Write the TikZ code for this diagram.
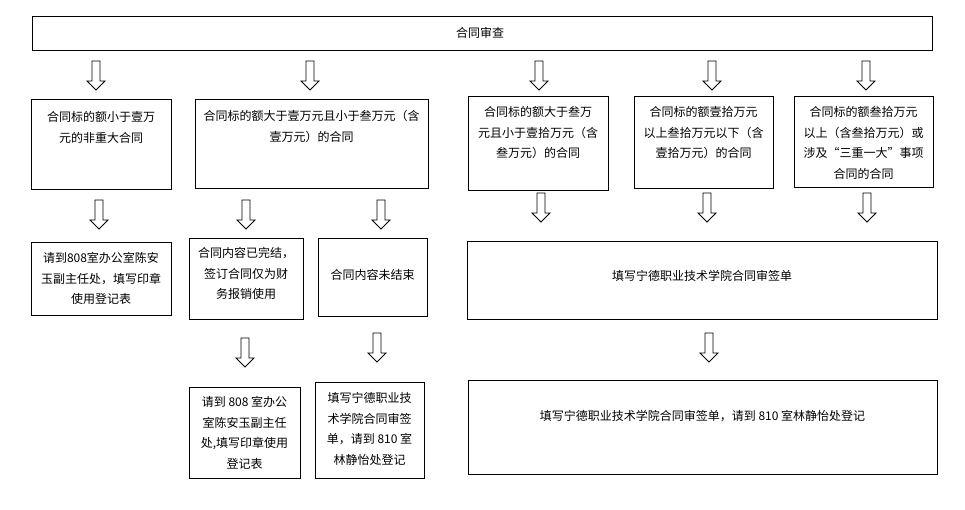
\documentclass[tikz,border=0pt]{standalone}
\usepackage{fontspec}
\setmainfont{Noto Sans CJK SC}
\tikzset{
  box/.style={draw, line width=0.9pt, anchor=north west, inner sep=0pt, outer sep=0pt},
  txt/.style={align=center, inner sep=0pt, anchor=north, font=\fontsize{12}{20.5}\selectfont},
  harrow/.pic={\draw[line width=0.8pt, line join=miter, fill=white]
      (-4,0) -- (4,0) -- (4,20) -- (9,20) -- (0,29) -- (-9,20) -- (-4,20) -- cycle;}
}
\begin{document}
\begin{tikzpicture}[x=1pt,y=-1pt]
\useasboundingbox (0,0) rectangle (965,510);
% boxes
\node[box, minimum width=900, minimum height=34] (top) at (32,16) {};
\node[box, minimum width=140, minimum height=90] (A) at (31,99) {};
\node[box, minimum width=233, minimum height=89] (B) at (195,99) {};
\node[box, minimum width=140, minimum height=94] (C) at (468,96) {};
\node[box, minimum width=139, minimum height=92] (D) at (634,96) {};
\node[box, minimum width=139, minimum height=91] (E) at (794,96) {};
\node[box, minimum width=140, minimum height=73] (F) at (31,242) {};
\node[box, minimum width=114, minimum height=81] (G) at (189,238) {};
\node[box, minimum width=109, minimum height=78] (H) at (318,238) {};
\node[box, minimum width=470, minimum height=78] (I) at (467,241) {};
\node[box, minimum width=111, minimum height=91] (J) at (189,387) {};
\node[box, minimum width=109, minimum height=96] (K) at (315,382) {};
\node[box, minimum width=469, minimum height=94] (L) at (468,380) {};
% texts
\node[txt] (tTop) at (480,27.5) {合同审查};
\node[txt] (tA) at (101,111.5) {合同标的额小于壹万\\元的非重大合同};
\node[txt] (tB) at (311.5,110.5) {合同标的额大于壹万元且小于叁万元（含\\壹万元）的合同};
\node[txt] (tC) at (538,106.5) {合同标的额大于叁万\\元且小于壹拾万元（含\\叁万元）的合同};
\node[txt] (tD) at (703.5,106.5) {合同标的额壹拾万元\\以上叁拾万元以下（含\\壹拾万元）的合同};
\node[txt] (tE) at (863.5,106.5) {合同标的额叁拾万元\\以上（含叁拾万元）或\\涉及“三重一大”事项\\合同的合同};
\node[txt] (tF) at (101,252.5) {请到808室办公室陈安\\玉副主任处，填写印章\\使用登记表};
\node[txt] (tG) at (246,247.5) {合同内容已完结，\\签订合同仅为财\\务报销使用};
\node[txt] (tH) at (372.5,269.5) {合同内容未结束};
\node[txt] (tI) at (702,270.5) {填写宁德职业技术学院合同审签单};
\node[txt] (tJ) at (244.5,396.5) {请到 808 室办公\\室陈安玉副主任\\处,填写印章使用\\登记表};
\node[txt] (tK) at (369.5,392.5) {填写宁德职业技\\术学院合同审签\\单，请到 810 室\\林静怡处登记};
\node[txt] (tL) at (702.5,410.5) {填写宁德职业技术学院合同审签单，请到 810 室林静怡处登记};
% hollow arrows
\foreach \ax/\ay in {96/61, 310/61, 539/61, 712/61, 866/61,
                     99/200, 246/200, 381/200, 541/193, 707/193, 867/193,
                     245/338, 377/333, 709/333}
  \pic at (\ax,\ay) {harrow};
\end{tikzpicture}
\end{document}
